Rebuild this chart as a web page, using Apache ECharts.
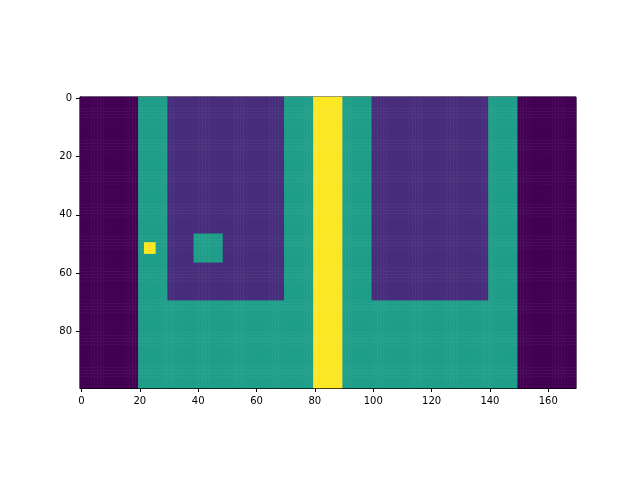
<!DOCTYPE html>
<html><head><meta charset="utf-8">
<script src="https://cdn.jsdelivr.net/npm/echarts@6/dist/echarts.min.js"></script>
<style>html,body{margin:0;background:#fff}#c{width:640px;height:480px}</style>
</head><body><div id="c"></div>
<script>
const nCols = 170, nRows = 100;
const levelColors = ['#440154', '#472d7b', '#1f9e89', '#fde725'];
// rectangles: [colStart, colEnd, rowStart, rowEnd, level], painted in order
const regions = [
  [0, 169, 0, 99, 0],
  [20, 149, 0, 99, 2],
  [30, 69, 0, 69, 1],
  [100, 139, 0, 69, 1],
  [80, 89, 0, 99, 3],
  [22, 25, 50, 53, 3],
  [39, 48, 47, 56, 2]
];
const grid = [];
for (let r = 0; r < nRows; r++) { grid.push(new Array(nCols).fill(0)); }
regions.forEach(([c0, c1, r0, r1, v]) => {
  for (let r = r0; r <= r1; r++) for (let c = c0; c <= c1; c++) grid[r][c] = v;
});
const data = [];
for (let r = 0; r < nRows; r++) for (let c = 0; c < nCols; c++) data.push([c, r, grid[r][c]]);
const xs = Array.from({length: nCols}, (_, i) => String(i));
const ys = Array.from({length: nRows}, (_, i) => String(i));
const every20 = (i) => i % 20 === 0;
const axCommon = {
  axisLine: {show: true, lineStyle: {color: '#000', width: 1}},
  axisTick: {show: true, interval: every20, alignWithLabel: true, length: 4, lineStyle: {color: '#000'}},
  axisLabel: {interval: every20, color: '#000', fontSize: 10, fontFamily: 'DejaVu Sans'},
  splitLine: {show: false}
};
const chart = echarts.init(document.getElementById('c'));
chart.setOption({
  animation: false,
  grid: {left: 80, top: 97, width: 496, height: 291, show: true, borderColor: '#000', borderWidth: 1, backgroundColor: 'transparent'},
  xAxis: Object.assign({type: 'category', data: xs, position: 'bottom'}, axCommon),
  yAxis: Object.assign({type: 'category', data: ys, inverse: true}, axCommon),
  visualMap: {show: false, type: 'piecewise', dimension: 2,
    pieces: levelColors.map((c, i) => ({value: i, color: c}))},
  series: [{type: 'heatmap', data: data, itemStyle: {borderWidth: 0}, emphasis: {disabled: true}}]
});
</script></body></html>
